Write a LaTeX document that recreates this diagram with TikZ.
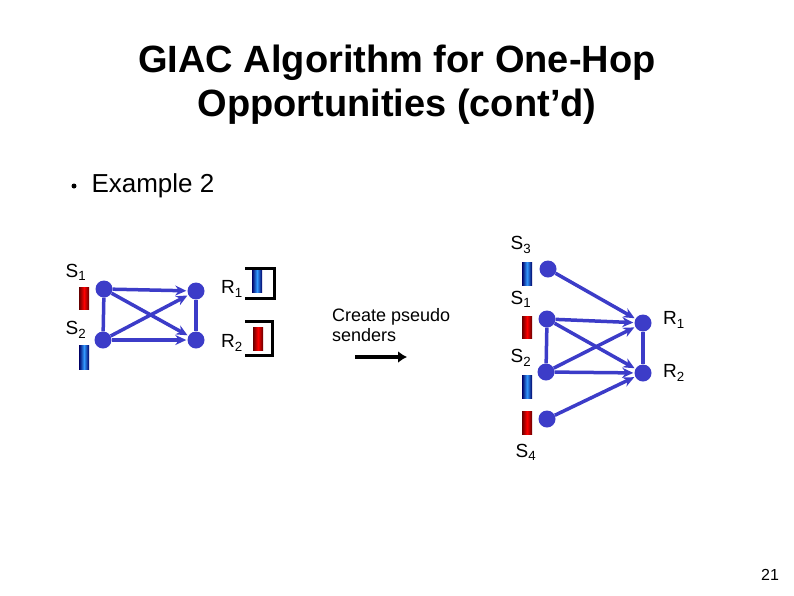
\documentclass[tikz,border=0pt]{standalone}
\usepackage{fontspec}
\setmainfont{Liberation Sans}
\usetikzlibrary{arrows.meta}
\definecolor{nb}{RGB}{60,60,200}
\begin{document}
\begin{tikzpicture}[x=1pt,y=-1pt,
  dot/.style={circle,fill=nb,inner sep=0pt,minimum size=17pt},
  edge/.style={nb,line width=3.5pt,-{Stealth[length=11pt,width=10pt]},shorten >=1pt},
  link/.style={nb,line width=3.5pt},
  lab/.style={font=\fontsize{19}{19}\selectfont},
  rbar/.style={shading=axis,left color=red!40!black,right color=red!40!black,middle color=red,shading angle=90},
  bbar/.style={shading=axis,left color=blue!40!black,right color=blue!40!black,middle color=blue!50!cyan!80!white,shading angle=90},
  brk/.style={line width=3pt}]
\useasboundingbox (0,0) rectangle (794,595);
\node[font=\bfseries\fontsize{38}{44}\selectfont,align=center] (title) at (397,85) {GIAC Algorithm for One-Hop\\Opportunities (cont'd)};
\fill (74,186) circle (2.5pt);
\node[anchor=west,font=\fontsize{26}{26}\selectfont] (ex) at (88,186) {Example 2};
% left graph
\node[dot] (a1) at (104,289) {};
\node[dot] (a2) at (103,340) {};
\node[dot] (b1) at (196,291) {};
\node[dot] (b2) at (196,340) {};
\draw[link] (a1)--(a2); \draw[link] (b1)--(b2);
\draw[edge] (a1)--(b1); \draw[edge] (a1)--(b2); \draw[edge] (a2)--(b1); \draw[edge] (a2)--(b2);
\shade[rbar] (79,287) rectangle (89,309);
\shade[bbar] (79,345) rectangle (89,369);
\shade[bbar] (252,270) rectangle (262,292);
\shade[rbar] (253,327) rectangle (263,350);
\draw[brk] (245,268)--(274,268)--(274,298)--(245,298);
\draw[brk] (245,321)--(272,321)--(272,355)--(245,355);
\node[lab] (ls1) at (76,272) {S\textsubscript{1}};
\node[lab] (ls2) at (76,330) {S\textsubscript{2}};
\node[lab] (lr1) at (232,289) {R\textsubscript{1}};
\node[lab] (lr2) at (232,343) {R\textsubscript{2}};
% middle
\node[anchor=north west,align=left,font=\fontsize{18}{20}\selectfont,inner sep=0pt] (cp) at (332,308) {Create pseudo\\senders};
\coordinate (m1) at (355,357); \coordinate (m2) at (407,357);
\draw[line width=4.5pt,-{Latex[length=9pt,width=12pt]}] (m1)--(m2);
% right graph
\node[dot] (c3) at (548,269) {};
\node[dot] (c1) at (547,319) {};
\node[dot] (c2) at (546,372) {};
\node[dot] (c4) at (547,419) {};
\node[dot] (d1) at (643,323) {};
\node[dot] (d2) at (643,373) {};
\draw[link] (c1)--(c2); \draw[link] (d1)--(d2);
\draw[edge] (c3)--(d1); \draw[edge] (c1)--(d1); \draw[edge] (c1)--(d2);
\draw[edge] (c2)--(d1); \draw[edge] (c2)--(d2); \draw[edge] (c4)--(d2);
\shade[bbar] (522,262) rectangle (532,285);
\shade[rbar] (522,316) rectangle (532,338);
\shade[bbar] (522,375) rectangle (532,398);
\shade[rbar] (522,411) rectangle (532,434);
\node[lab] (ls3) at (521,245) {S\textsubscript{3}};
\node[lab] (rs1) at (521,299) {S\textsubscript{1}};
\node[lab] (rs2) at (521,358) {S\textsubscript{2}};
\node[lab] (ls4) at (526,452) {S\textsubscript{4}};
\node[lab] (rr1) at (674,320) {R\textsubscript{1}};
\node[lab] (rr2) at (674,373) {R\textsubscript{2}};
\node[font=\fontsize{16}{16}\selectfont] (pg) at (770,575) {21};
\end{tikzpicture}
\end{document}
